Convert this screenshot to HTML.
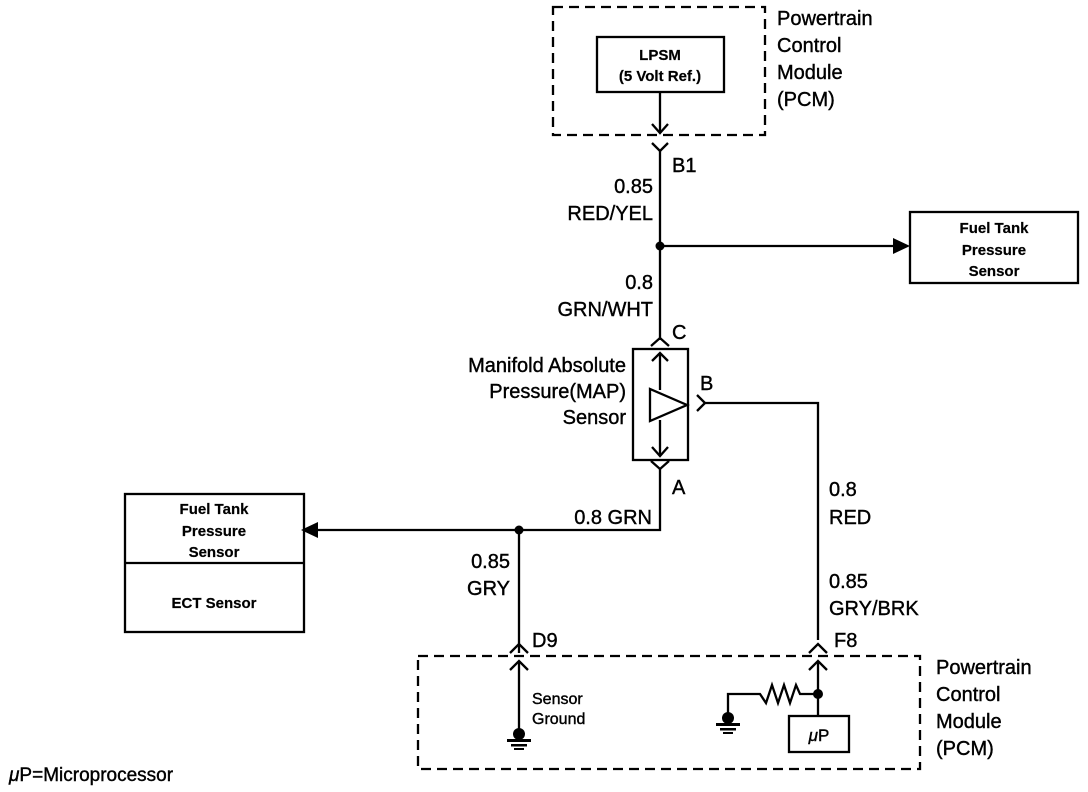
<!DOCTYPE html>
<html><head><meta charset="utf-8"><style>
html,body{margin:0;padding:0;background:#fff;}
svg{display:block;}
text{font-family:"Liberation Sans",sans-serif;fill:#000;stroke:#000;stroke-width:0.4;}
.l{font-size:20px;}
.b{font-size:15px;font-weight:bold;stroke-width:0.2;}
</style></head><body>
<svg width="1088" height="792" viewBox="0 0 1088 792" xmlns="http://www.w3.org/2000/svg">
<g fill="none" stroke="#000" stroke-width="2.3">
<rect x="553" y="7" width="212" height="128" stroke-dasharray="10,6"/>
<rect x="597" y="37" width="127" height="55"/>
<line x1="660" y1="92" x2="660" y2="133"/>
<polyline points="652,124 660,133 668,124"/>
<polyline points="652,143 660,151 668,143"/>
<line x1="660" y1="151" x2="660" y2="340"/>
<line x1="660" y1="246" x2="896" y2="246"/>
<rect x="910" y="212" width="168" height="71"/>
<polyline points="651,346 660,338 669,346"/>
<rect x="633" y="349" width="55" height="111"/>
<line x1="660" y1="353" x2="660" y2="390"/>
<line x1="660" y1="420" x2="660" y2="456"/>
<polyline points="652,361 660,353 668,361"/>
<polyline points="652,447 660,456 668,447"/>
<polygon points="650,389 650,421 687,405"/>
<polyline points="697,395 705,403 697,411"/>
<polyline points="705,403 818,403 818,640"/>
<polyline points="651,461 660,469 669,461"/>
<polyline points="660,469 660,530 316,530"/>
<rect x="125" y="494" width="179" height="138"/>
<line x1="125" y1="563" x2="304" y2="563"/>
<line x1="519" y1="530" x2="519" y2="653"/>
<polyline points="510,653 519,644 528,653"/>
<polyline points="809,653 818,644 827,653"/>
<rect x="418" y="656" width="502" height="113" stroke-dasharray="10,6"/>
<line x1="519" y1="662" x2="519" y2="733"/>
<polyline points="510,670 519,661 528,670"/>
<line x1="818" y1="662" x2="818" y2="716"/>
<polyline points="809,670 818,661 827,670"/>
<polyline points="818,694 800,694 796,685 790,703 784,685 778,703 772,685 766,703 760,694 745,694 728,694 728,714"/>
<rect x="789" y="716" width="60" height="36"/>
</g>
<g fill="#000" stroke="none">
<circle cx="660" cy="246" r="4.5"/>
<polygon points="893,238 910,246 893,254"/>
<circle cx="519" cy="530" r="4.5"/>
<polygon points="318,522 301,530 318,538"/>
<circle cx="818" cy="694" r="5"/>
<circle cx="519" cy="734" r="6"/>
<rect x="507" y="739" width="24" height="3"/>
<rect x="511" y="744" width="16" height="2.5"/>
<rect x="514" y="748" width="10" height="2"/>
<circle cx="728" cy="718" r="6"/>
<rect x="716" y="723" width="24" height="3"/>
<rect x="720" y="728" width="16" height="2.5"/>
<rect x="723" y="732" width="10" height="2"/>
</g>
<text class="b" x="660" y="60" text-anchor="middle">LPSM</text>
<text class="b" x="660" y="81" text-anchor="middle">(5 Volt Ref.)</text>
<text class="l" x="777" y="25">Powertrain</text>
<text class="l" x="777" y="52">Control</text>
<text class="l" x="777" y="79">Module</text>
<text class="l" x="777" y="106">(PCM)</text>
<text class="l" x="672" y="172">B1</text>
<text class="l" x="653" y="193" text-anchor="end">0.85</text>
<text class="l" x="653" y="220" text-anchor="end">RED/YEL</text>
<text class="b" x="994" y="233" text-anchor="middle">Fuel Tank</text>
<text class="b" x="994" y="255" text-anchor="middle">Pressure</text>
<text class="b" x="994" y="276" text-anchor="middle">Sensor</text>
<text class="l" x="653" y="289" text-anchor="end">0.8</text>
<text class="l" x="653" y="316" text-anchor="end">GRN/WHT</text>
<text class="l" x="672" y="339">C</text>
<text class="l" x="626" y="372" text-anchor="end">Manifold Absolute</text>
<text class="l" x="626" y="398" text-anchor="end">Pressure(MAP)</text>
<text class="l" x="626" y="424" text-anchor="end">Sensor</text>
<text class="l" x="700" y="390">B</text>
<text class="l" x="672" y="494">A</text>
<text class="l" x="652" y="524" text-anchor="end">0.8 GRN</text>
<text class="l" x="829" y="496">0.8</text>
<text class="l" x="829" y="524">RED</text>
<text class="b" x="214" y="514" text-anchor="middle">Fuel Tank</text>
<text class="b" x="214" y="536" text-anchor="middle">Pressure</text>
<text class="b" x="214" y="557" text-anchor="middle">Sensor</text>
<text class="b" x="214" y="608" text-anchor="middle">ECT Sensor</text>
<text class="l" x="510" y="568" text-anchor="end">0.85</text>
<text class="l" x="510" y="595" text-anchor="end">GRY</text>
<text class="l" x="829" y="588">0.85</text>
<text class="l" x="829" y="615">GRY/BRK</text>
<text class="l" x="532" y="647">D9</text>
<text class="l" x="834" y="647">F8</text>
<text x="532" y="704" style="font-size:16px">Sensor</text>
<text x="532" y="724" style="font-size:16px">Ground</text>
<text x="819" y="741" text-anchor="middle" style="font-size:17px"><tspan font-style="italic">μ</tspan>P</text>
<text class="l" x="936" y="674">Powertrain</text>
<text class="l" x="936" y="701">Control</text>
<text class="l" x="936" y="728">Module</text>
<text class="l" x="936" y="755">(PCM)</text>
<text class="l" x="9" y="781" style="font-size:19px"><tspan font-style="italic">μ</tspan>P=Microprocessor</text>
</svg>
</body></html>
